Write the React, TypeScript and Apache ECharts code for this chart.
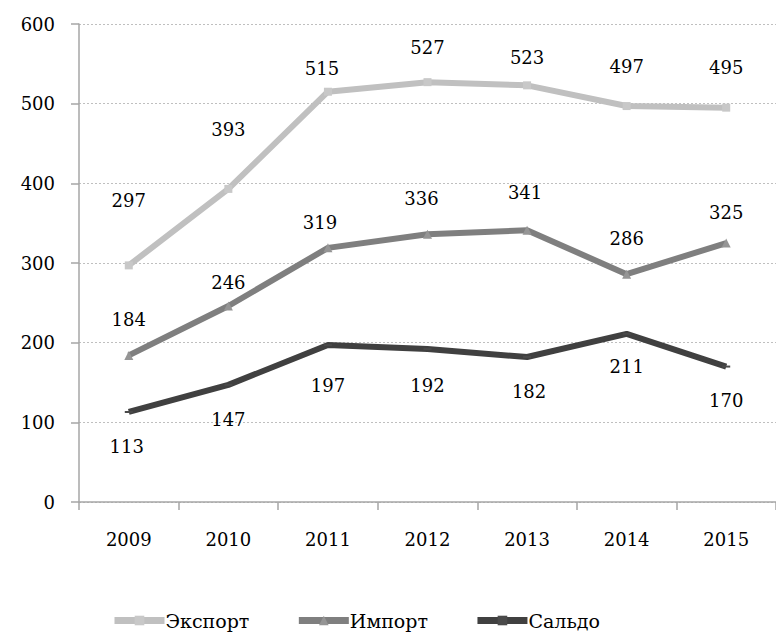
import React, { useEffect, useRef } from "react";
import * as echarts from "echarts";

const years = ["2009", "2010", "2011", "2012", "2013", "2014", "2015"];
const exportVals = [297, 393, 515, 527, 523, 497, 495];
const importVals = [184, 246, 319, 336, 341, 286, 325];
const saldoVals = [113, 147, 197, 192, 182, 211, 170];

const exportLabelOffsets = [[0, -42], [0, -36], [-6, 0], [0, -12], [0, -5], [0, -17], [0, -17]];
const importLabelOffsets = [[0, -12], [0, 0], [-8, -2], [-6, -12], [-2, -14], [0, -12], [0, -7]];
const saldoLabelOffsets = [[-2, 15], [0, 15], [0, 20], [0, 16], [2, 14], [0, 13], [0, 14]];

const FONT = "DejaVu Serif";

function build(vals: number[], offs: number[][], pos: string) {
  return vals.map((v, i) => ({
    value: v,
    label: { offset: offs[i], position: pos },
  }));
}

export default function App() {
  const ref = useRef<HTMLDivElement>(null);
  useEffect(() => {
    if (!ref.current) return;
    const chart = echarts.init(ref.current, null, { renderer: "svg" });
    const labelStyle = {
      show: true,
      color: "#000",
      fontFamily: FONT,
      fontSize: 18,
      distance: 10,
    };
    chart.setOption({
      animation: false,
      backgroundColor: "#fff",
      textStyle: { fontFamily: FONT },
      grid: { left: 79, top: 24, width: 706, height: 478, containLabel: false },
      legend: {
        bottom: 4,
        left: 106,
        itemWidth: 50,
        itemHeight: 12,
        itemGap: 46,
        lineStyle: { width: 7 },
        textStyle: { fontFamily: FONT, fontSize: 19, color: "#000", padding: [0, 0, 0, -4] },
        data: ["Экспорт", "Импорт", "Сальдо"],
      },
      xAxis: {
        type: "category",
        data: years,
        boundaryGap: true,
        axisLine: { lineStyle: { color: "#a6a6a6", width: 1.5 } },
        axisTick: { show: true, length: 8, lineStyle: { color: "#a6a6a6", width: 1.5 } },
        axisLabel: { color: "#000", fontFamily: FONT, fontSize: 18, margin: 28 },
      },
      yAxis: {
        type: "value",
        min: 0,
        max: 600,
        interval: 100,
        axisLine: { show: true, lineStyle: { color: "#a6a6a6", width: 1.5 } },
        axisTick: { show: true, length: 8, lineStyle: { color: "#a6a6a6", width: 1.5 } },
        axisLabel: { color: "#000", fontFamily: FONT, fontSize: 18, margin: 24 },
        splitLine: { show: true, lineStyle: { color: "#bfbfbf", type: [2, 2], width: 1 } },
      },
      series: [
        {
          name: "Экспорт",
          type: "line",
          data: build(exportVals, exportLabelOffsets, "top"),
          symbol: "rect",
          symbolSize: 8,
          lineStyle: { color: "#c0c0c0", width: 6 },
          itemStyle: { color: "#c8c8c8" },
          label: labelStyle,
        },
        {
          name: "Импорт",
          type: "line",
          data: build(importVals, importLabelOffsets, "top"),
          symbol: "triangle",
          symbolSize: 9,
          lineStyle: { color: "#7f7f7f", width: 6 },
          itemStyle: { color: "#959595" },
          label: labelStyle,
        },
        {
          name: "Сальдо",
          type: "line",
          data: build(saldoVals, saldoLabelOffsets, "bottom"),
          symbol: "rect",
          symbolSize: [8, 2],
          lineStyle: { color: "#404040", width: 6 },
          itemStyle: { color: "#4a4a4a" },
          label: labelStyle,
        },
      ],
    });
    return () => chart.dispose();
  }, []);
  return (
    <div
      ref={ref}
      style={{ position: "fixed", left: 0, top: 0, width: 776, height: 639, background: "#fff" }}
    />
  );
}
